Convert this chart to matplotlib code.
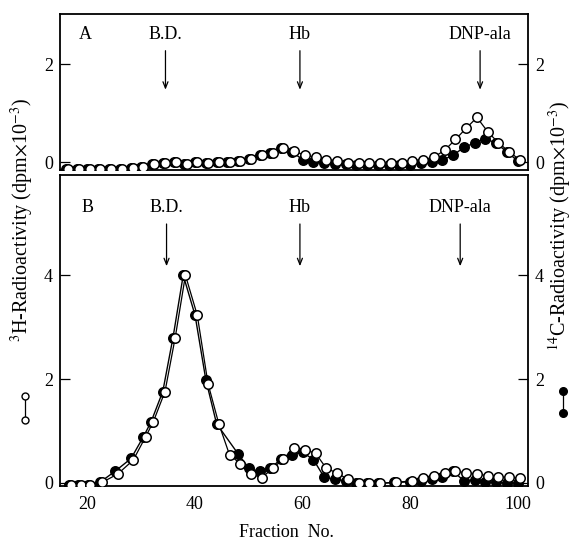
import matplotlib
matplotlib.use("Agg")
import matplotlib.pyplot as plt
import matplotlib.transforms as mtransforms
from matplotlib.lines import Line2D

plt.rcParams["font.family"] = ["Liberation Serif", "DejaVu Serif"]
plt.rcParams["mathtext.fontset"] = "stix"

# ── data: panel A ─────────────────────────────────────────────
a_frac = [16, 18, 20, 22, 24, 26, 28, 30, 32, 34, 36, 38, 40, 42, 44, 46, 48, 50, 52, 54, 56, 58,
          60, 62, 64, 66, 68, 70, 72, 74, 76, 78, 80, 82, 84, 86, 88, 90, 92, 94, 96, 98, 100]
a_h3 = [-0.14, -0.14, -0.14, -0.14, -0.14, -0.14, -0.13, -0.10, -0.05, -0.03, 0.01, -0.05, 0.00,
        -0.01, 0.01, 0.01, 0.03, 0.06, 0.14, 0.18, 0.28, 0.22, 0.14, 0.10, 0.05, 0.03, -0.01,
        -0.03, -0.03, -0.03, -0.03, -0.01, 0.03, 0.05, 0.10, 0.24, 0.46, 0.69, 0.91, 0.62, 0.39,
        0.21, 0.04]
a_c14 = [-0.14, -0.14, -0.14, -0.14, -0.14, -0.14, -0.13, -0.10, -0.05, -0.03, 0.01, -0.05, 0.00,
         -0.01, 0.01, 0.01, 0.03, 0.06, 0.14, 0.18, 0.28, 0.21, 0.05, 0.01, -0.03, -0.04, -0.04,
         -0.06, -0.06, -0.06, -0.06, -0.07, -0.06, -0.03, 0.01, 0.04, 0.14, 0.30, 0.39, 0.48, 0.38,
         0.21, 0.02]

# ── data: panel B ─────────────────────────────────────────────
b_h3_frac = [16.5, 18.3, 20.1, 22.3, 25.2, 28.1, 30.4, 31.8, 34, 35.9, 37.8, 40, 42, 44, 46, 48,
             50, 52, 54, 56, 58, 60, 62, 64, 66, 68, 70, 72, 74, 77, 80, 82, 84, 86, 88, 90, 92,
             94, 96, 98, 100]
b_h3 = [-0.05, -0.05, -0.05, 0.01, 0.17, 0.44, 0.89, 1.17, 1.76, 2.80, 4.0, 3.23, 1.91, 1.14,
        0.54, 0.37, 0.17, 0.10, 0.28, 0.46, 0.68, 0.64, 0.57, 0.28, 0.19, 0.07, -0.01, -0.01,
        -0.01, 0.01, 0.04, 0.10, 0.13, 0.19, 0.22, 0.20, 0.17, 0.14, 0.11, 0.11, 0.09]
b_c14_frac = [16.5, 18.3, 20.1, 22.3, 25.2, 28.1, 30.4, 31.8, 34, 35.9, 37.8, 40, 42, 44, 48,
              50, 52, 54, 56, 58, 60, 62, 64, 66, 68, 70, 72, 74, 77, 80, 82, 84, 86, 88, 90, 92,
              94, 96, 98, 100]
b_c14 = [-0.05, -0.05, -0.05, 0.01, 0.23, 0.47, 0.89, 1.17, 1.76, 2.80, 4.0, 3.23, 1.99, 1.14,
         0.56, 0.28, 0.22, 0.28, 0.46, 0.54, 0.59, 0.45, 0.11, 0.07, 0.04, -0.01, -0.01, -0.01,
         0.01, 0.02, 0.04, 0.07, 0.12, 0.22, 0.04, 0.06, 0.02, 0.01, 0.0, 0.0]

# marker fractions (arrows)
markers_a = [("B.D.", 34.5), ("Hb", 59.5), ("DNP-ala", 93.0)]
markers_b = [("B.D.", 34.7), ("Hb", 59.5), ("DNP-ala", 89.3)]

FS = 13

fig = plt.figure(figsize=(5.72, 5.44), dpi=100)
ax_a = fig.add_axes([0.105, 0.6875, 0.818, 0.2865])
ax_b = fig.add_axes([0.105, 0.1066, 0.818, 0.5717])


def draw(ax, xo, yo, xf, yf):
    # half-filled look: open circles slightly shifted right over the filled ones
    shift = ax.transData + mtransforms.ScaledTranslation(1.6 / 72, 0, fig.dpi_scale_trans)
    ax.plot(xf, yf, "-", color="black", lw=1.0, marker="o", ms=6.8,
            mfc="black", mec="black", mew=1.1, zorder=2)
    ax.plot(xo, yo, "-", color="black", lw=0.9, marker="o", ms=6.8,
            mfc="white", mec="black", mew=1.1, zorder=3, transform=shift)


draw(ax_a, a_frac, a_h3, a_frac, a_c14)
draw(ax_b, b_h3_frac, b_h3, b_c14_frac, b_c14)

for ax in (ax_a, ax_b):
    ax.set_xlim(14.9, 101.9)
    for s in ax.spines.values():
        s.set_linewidth(1.3)
    ax.tick_params(axis="y", which="both", direction="in", length=7, width=0.9,
                   labelsize=FS, left=True, right=True, labelleft=True, labelright=True, pad=5)
    ax.tick_params(axis="x", length=0, labelsize=FS, pad=7)

ax_a.set_ylim(-0.163, 3.02)
ax_a.set_yticks([0, 2])
ax_a.set_xticks([])

ax_b.set_ylim(-0.06, 5.93)
ax_b.set_yticks([0, 2, 4])
ax_b.set_xticks([20, 40, 60, 80, 100])

arrow_kw = dict(arrowstyle="->,head_length=0.45,head_width=0.18", lw=0.9, color="black")

ax_a.text(0.04, 2.6, "A", fontsize=FS, ha="left", va="center",
          transform=mtransforms.blended_transform_factory(ax_a.transAxes, ax_a.transData))
for name, xf in markers_a:
    ax_a.text(xf, 2.6, name, fontsize=FS, ha="center", va="center")
    ax_a.annotate("", xy=(xf, 1.42), xytext=(xf, 2.33), arrowprops=arrow_kw)

ax_b.text(0.045, 5.31, "B", fontsize=FS, ha="left", va="center",
          transform=mtransforms.blended_transform_factory(ax_b.transAxes, ax_b.transData))
for name, xf in markers_b:
    ax_b.text(xf, 5.31, name, fontsize=FS, ha="center", va="center")
    ax_b.annotate("", xy=(xf, 4.12), xytext=(xf, 5.04), arrowprops=arrow_kw)

fig.text(0.5, 0.022, "Fraction  No.", fontsize=FS, ha="center", va="center")

fig.text(0.040, 1 - 220 / 544, r"$^{3}$H-Radioactivity (dpm$\times$10$^{-3}$)", fontsize=14.5,
         rotation=90, ha="center", va="center")
fig.text(0.978, 1 - 226 / 544, r"$^{14}$C-Radioactivity (dpm$\times$10$^{-3}$)", fontsize=14.5,
         rotation=90, ha="center", va="center")

# small symbol keys next to the axis titles
fig.add_artist(Line2D([25 / 572, 25 / 572], [1 - 420 / 544, 1 - 396 / 544], transform=fig.transFigure,
                      color="black", lw=0.9, marker="o", ms=5, mfc="white", mec="black", mew=1.0))
fig.add_artist(Line2D([563 / 572, 563 / 572], [1 - 413 / 544, 1 - 391 / 544], transform=fig.transFigure,
                      color="black", lw=0.9, marker="o", ms=5.5, mfc="black", mec="black"))

plt.savefig("out.png", dpi=100)
